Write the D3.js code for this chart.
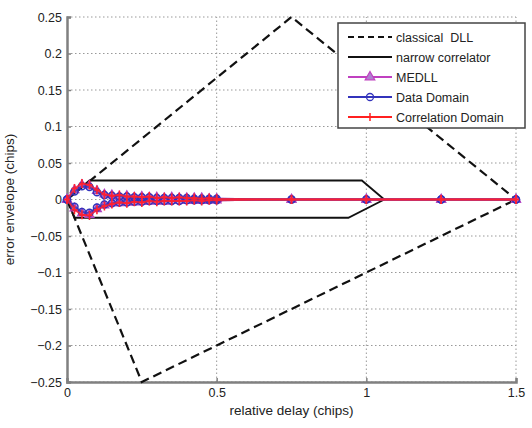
<!DOCTYPE html>
<html>
<head>
<meta charset="utf-8">
<script src="https://cdn.jsdelivr.net/npm/d3@7"></script>
<style>
  body { margin: 0; background: #fff; }
  text { font-family: "Liberation Sans", Arial, sans-serif; }
</style>
</head>
<body>
<div id="chart"></div>
<script>
// Chart values;
var delays = [0, 0.025, 0.05, 0.075, 0.1, 0.125, 0.15, 0.175, 0.2, 0.225, 0.25, 0.275, 0.3,
    0.325, 0.35, 0.375, 0.4, 0.425, 0.45, 0.475, 0.5, 0.75, 1, 1.25, 1.5]

var medllUpper = [0, 0.013, 0.020, 0.019, 0.012, 0.007, 0.006, 0.004, 0.005, 0.003, 0.004, 0.003,
    0.003, 0.002, 0.003, 0.002, 0.002, 0.002, 0.002, 0.001, 0.001, 0, 0, 0, 0]
var medllLower = [0, -0.012, -0.019, -0.021, -0.013, -0.008, -0.005, -0.005, -0.004, -0.004, -0.003, -0.003,
    -0.002, -0.003, -0.002, -0.002, -0.002, -0.001, -0.002, -0.001, -0.001, 0, 0, 0, 0]

var dataUpper = [0, 0.011, 0.018, 0.017, 0.010, 0.006, 0.005, 0.004, 0.004, 0.003, 0.003, 0.003,
    0.002, 0.002, 0.002, 0.002, 0.002, 0.001, 0.001, 0.001, 0.001, 0, 0, 0, 0]
var dataLower = [0, -0.010, -0.017, -0.018, -0.011, -0.007, -0.005, -0.004, -0.004, -0.003, -0.003, -0.002,
    -0.002, -0.002, -0.002, -0.002, -0.001, -0.001, -0.001, -0.001, -0.001, 0, 0, 0, 0]

var corrUpper = [0, 0.015, 0.022, 0.020, 0.013, 0.007, 0.005, 0.006, 0.004, 0.004, 0.003, 0.004,
    0.002, 0.003, 0.002, 0.003, 0.002, 0.002, 0.001, 0.002, 0.001, 0, 0, 0, 0]
var corrLower = [0, -0.014, -0.021, -0.022, -0.014, -0.009, -0.006, -0.004, -0.005, -0.003, -0.004, -0.002,
    -0.003, -0.002, -0.002, -0.002, -0.002, -0.001, -0.002, -0.001, -0.001, 0, 0, 0, 0]

// Classical DLL and narrow correlator envelopes (corner points);
var classicalUpper = [[0, 0], [0.75, 0.25], [1.5, 0]]
var classicalLower = [[0, 0], [0.25, -0.25], [1.5, 0]]
var narrowUpper = [[0, 0], [0.075, 0.026], [0.985, 0.026], [1.06, 0]]
var narrowLower = [[0, 0], [0.025, -0.025], [0.94, -0.025], [1.06, 0]]

var yTicks = [0.25, 0.2, 0.15, 0.1, 0.05, 0, -0.05, -0.1, -0.15, -0.2, -0.25]
var xTicks = [0, 0.5, 1, 1.5]

var legendNames = ["classical  DLL", "narrow correlator", "MEDLL", "Data Domain", "Correlation Domain"]

/////////////////////////////

const width = 532, height = 428
const margin = { left: 67, right: 16, top: 17, bottom: 46 }

const svg = d3.select("#chart").append("svg")
    .attr("width", width)
    .attr("height", height)

const x = d3.scaleLinear().domain([0, 1.5]).range([margin.left, width - margin.right])
const y = d3.scaleLinear().domain([-0.25, 0.25]).range([height - margin.bottom, margin.top])

const gridColor = "#999"
const axisColor = "#808080"

// Grid lines;
svg.append("g").selectAll("line")
    .data(yTicks)
    .join("line")
    .attr("x1", x(0)).attr("x2", x(1.5))
    .attr("y1", d => y(d)).attr("y2", d => y(d))
    .attr("stroke", gridColor)
    .attr("stroke-width", 1)
    .attr("stroke-dasharray", "1.5,2.5")

svg.append("g").selectAll("line")
    .data(xTicks.slice(1))
    .join("line")
    .attr("x1", d => x(d)).attr("x2", d => x(d))
    .attr("y1", y(-0.25)).attr("y2", y(0.25))
    .attr("stroke", gridColor)
    .attr("stroke-width", 1)
    .attr("stroke-dasharray", "1.5,2.5")

// Axes;
const yAxis = svg.append("g")
    .attr("transform", `translate(${x(0)},0)`)
    .call(d3.axisLeft(y).tickValues(yTicks).tickSize(-4).tickPadding(5).tickFormat(d => d3.format("")(+d.toFixed(2))))
const xAxis = svg.append("g")
    .attr("transform", `translate(0,${y(-0.25)})`)
    .call(d3.axisBottom(x).tickValues(xTicks).tickSize(-4).tickPadding(6).tickFormat(d => d3.format("")(d)))

;[yAxis, xAxis].forEach(a => {
    a.select(".domain").attr("stroke", axisColor).attr("stroke-width", 2.5)
    a.selectAll(".tick line").attr("stroke", axisColor).attr("stroke-width", 1.5)
    a.selectAll("text").attr("fill", "#222").attr("font-size", 12.5)
        .attr("font-family", "Liberation Sans, Arial, sans-serif")
})

// Axis labels;
svg.append("text")
    .attr("x", (x(0) + x(1.5)) / 2)
    .attr("y", 415)
    .attr("text-anchor", "middle")
    .attr("font-size", 13.5)
    .attr("fill", "#222")
    .text("relative delay (chips)")

svg.append("text")
    .attr("transform", `translate(14,${y(0)}) rotate(-90)`)
    .attr("text-anchor", "middle")
    .attr("font-size", 13.5)
    .attr("fill", "#222")
    .text("error envelope (chips)")

/////////////////////////////

const linePts = d3.line().x(d => x(d[0])).y(d => y(d[1]))
const lineSeries = vals => d3.line().x((d, i) => x(delays[i])).y(d => y(d))(vals)

const plot = svg.append("g")

// Classical DLL, dashed black;
;[classicalUpper, classicalLower].forEach(pts => plot.append("path")
    .attr("d", linePts(pts))
    .attr("fill", "none")
    .attr("stroke", "#111")
    .attr("stroke-width", 2.2)
    .attr("stroke-dasharray", "9,5"))

// Narrow correlator, solid black;
;[narrowUpper, narrowLower].forEach(pts => plot.append("path")
    .attr("d", linePts(pts))
    .attr("fill", "none")
    .attr("stroke", "#111")
    .attr("stroke-width", 1.8))

const series = [
    { upper: medllUpper, lower: medllLower, color: "#d030b0", marker: "triangle" },
    { upper: dataUpper, lower: dataLower, color: "#3333bb", marker: "circle" },
    { upper: corrUpper, lower: corrLower, color: "#ff2030", marker: "plus" }
]

series.forEach(s => {
    [s.upper, s.lower].forEach(vals => {
        plot.append("path")
            .attr("d", lineSeries(vals))
            .attr("fill", "none")
            .attr("stroke", s.color)
            .attr("stroke-width", 2)
            .attr("stroke-opacity", 0.8)
        drawMarkers(plot, vals.map((v, i) => [delays[i], v]), s.marker, s.color)
    })
})

function drawMarkers(g, pts, kind, color) {
    const m = g.append("g")
    if (kind == "triangle") {
        m.selectAll("path").data(pts).join("path")
            .attr("d", d3.symbol(d3.symbolTriangle, 34))
            .attr("transform", d => `translate(${x(d[0])},${y(d[1])})`)
            .attr("fill", "#b080d0")
            .attr("fill-opacity", 0.8)
            .attr("stroke", "#b040c0")
            .attr("stroke-width", 1.2)
    } else if (kind == "circle") {
        m.selectAll("circle").data(pts).join("circle")
            .attr("cx", d => x(d[0])).attr("cy", d => y(d[1]))
            .attr("r", 3.5)
            .attr("fill", "none")
            .attr("stroke", color)
            .attr("stroke-width", 1.5)
    } else {
        m.selectAll("path").data(pts).join("path")
            .attr("d", "M-3,0H3M0,-4.5V4.5")
            .attr("transform", d => `translate(${x(d[0])},${y(d[1])})`)
            .attr("stroke", color)
            .attr("stroke-width", 1.6)
    }
}

/////////////////////////////

// Legend;
const legend = svg.append("g").attr("transform", "translate(338,23)")
legend.append("rect")
    .attr("width", 187).attr("height", 105)
    .attr("fill", "#fff")
    .attr("stroke", "#444")
    .attr("stroke-width", 1.5)

const legendStyles = [
    { color: "#111", dash: "6,4", marker: null },
    { color: "#111", dash: null, marker: null },
    { color: "#c040c0", dash: null, marker: "triangle" },
    { color: "#3333bb", dash: null, marker: "circle" },
    { color: "#ff2020", dash: null, marker: "plus" }
]

legendNames.forEach((name, i) => {
    const yy = 14 + i * 20
    const st = legendStyles[i]
    legend.append("line")
        .attr("x1", 10).attr("x2", 54)
        .attr("y1", yy).attr("y2", yy)
        .attr("stroke", st.color)
        .attr("stroke-width", 2)
        .attr("stroke-dasharray", st.dash)
    if (st.marker == "triangle") {
        legend.append("path").attr("d", d3.symbol(d3.symbolTriangle, 40))
            .attr("transform", `translate(32,${yy})`)
            .attr("fill", "#b080d0").attr("stroke", st.color).attr("stroke-width", 1.2)
    } else if (st.marker == "circle") {
        legend.append("circle").attr("cx", 32).attr("cy", yy).attr("r", 3.5)
            .attr("fill", "none").attr("stroke", st.color).attr("stroke-width", 1.3)
    } else if (st.marker == "plus") {
        legend.append("path").attr("d", `M32,${yy - 4}V${yy + 4}`)
            .attr("stroke", st.color).attr("stroke-width", 1.5)
    }
    legend.append("text")
        .attr("x", 58).attr("y", yy + 4.5)
        .attr("font-size", 12.5)
        .style("white-space", "pre")
        .attr("fill", "#222")
        .text(name)
})
</script>
</body>
</html>
